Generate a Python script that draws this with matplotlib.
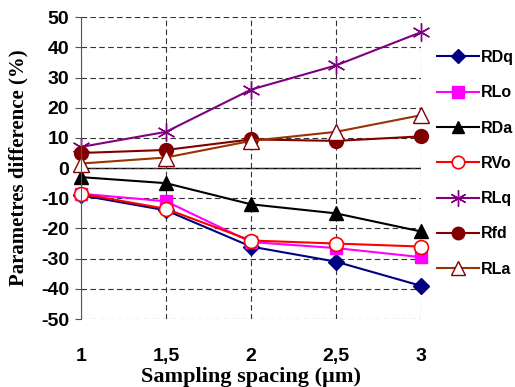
import matplotlib.pyplot as plt

plt.rcParams["axes.unicode_minus"] = False

spacing = [1, 1.5, 2, 2.5, 3]
spacing_labels = ["1", "1,5", "2", "2,5", "3"]
RDq = [-9, -14, -26, -31, -39]
RLo = [-8.5, -11, -24.5, -26.5, -29.5]
RDa = [-3, -5, -12, -15, -21]
RVo = [-8.5, -13.5, -24, -25, -26]
RLq = [7, 12, 26, 34, 45]
Rfd = [5, 6, 9.5, 9, 10.5]
RLa = [1.5, 3.5, 9, 12, 17.5]

fig = plt.figure(figsize=(5.15, 3.87), dpi=100)
ax = fig.add_axes([0.1573, 0.1757, 0.660, 0.780])

ax.plot(spacing, RDq, color="#000080", marker="D", ms=8, label="RDq", clip_on=False)
ax.plot(spacing, RLo, color="#FF00FF", marker="s", ms=9, label="RLo", clip_on=False)
ax.plot(spacing, RDa, color="black", marker="^", ms=10, label="RDa", clip_on=False)
ax.plot(spacing, RVo, color="red", marker="o", ms=10, mfc="white", mew=1.2, label="RVo", clip_on=False)
ax.plot(spacing, RLq, color="#800080", marker=(6, 2, 0), ms=13, label="RLq", clip_on=False)
ax.plot(spacing, Rfd, color="#800000", marker="o", ms=10, label="Rfd", clip_on=False)
ax.plot(spacing, RLa, color="#993300", marker="^", ms=11, mfc="white", mec="#800000", label="RLa", clip_on=False)

ax.axhline(0, color="black", lw=1, zorder=1)
ax.set_xlim(1, 3)
ax.set_ylim(-50, 50)
ax.set_xticks(spacing)
ax.set_xticklabels(spacing_labels)
ax.set_yticks(range(-50, 51, 10))
ax.grid(True, color="#333333", linestyle=(0, (5, 3)), lw=0.8)
for s in ["top", "right", "bottom"]:
    ax.spines[s].set_visible(False)
ax.spines["left"].set_color("#555555")
ax.tick_params(axis="x", length=0, pad=21)
ax.tick_params(axis="y", length=4.5, color="#555555", pad=4)
for lab in ax.get_xticklabels() + ax.get_yticklabels():
    lab.set_fontfamily("Liberation Sans")
    lab.set_fontweight("bold")
    lab.set_fontsize(14)

ax.set_xlabel("Sampling spacing (µm)", family="Liberation Serif", weight="bold", fontsize=16, labelpad=1)
ax.set_ylabel("Parametres difference (%)", family="Liberation Serif", weight="bold", fontsize=15)
ax.yaxis.set_label_coords(-0.156, 0.5)

fig.legend(loc="upper left", bbox_to_anchor=(0.821, 0.908), frameon=False,
           prop={"family": "Liberation Sans", "weight": "bold", "size": 11.5},
           handlelength=2.6, labelspacing=1.27, handletextpad=0.15, markerscale=0.9)

fig.savefig("out.png", dpi=100)
